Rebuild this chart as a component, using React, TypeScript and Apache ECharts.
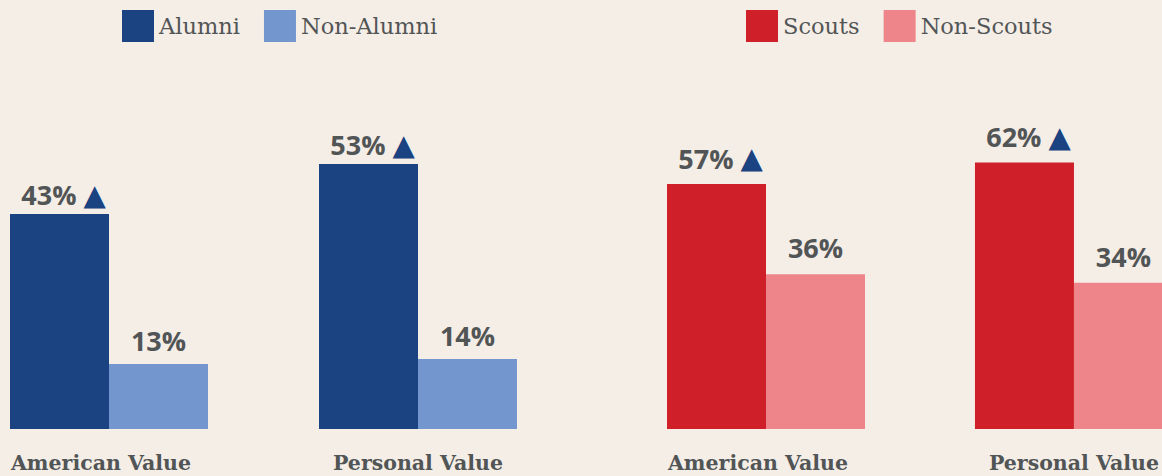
import React, { useEffect, useRef } from "react";
import * as echarts from "echarts";

const categories = ["American Value", "Personal Value"];
const alumni = [43, 53];
const nonAlumni = [13, 14];
const scouts = [57, 62];
const nonScouts = [36, 34];

const C_ALUMNI = "#1b4281";
const C_NONALUMNI = "#7396ce";
const C_SCOUTS = "#cf2029";
const C_NONSCOUTS = "#ee858a";
const TEXT = "#525556";

export default function App() {
  const ref = useRef<HTMLDivElement>(null);
  useEffect(() => {
    if (!ref.current) return;
    const chart = echarts.init(ref.current, undefined, { renderer: "svg" });
    const valueLabel = (distance: number, arrow: boolean) => ({
      show: true,
      position: "top",
      distance,
      offset: arrow ? [4, 0] : [0, 0],
      formatter: arrow ? "{v|{c}% }{t|▲}" : "{v|{c}%}",
      rich: {
        v: { fontFamily: "Open Sans", fontWeight: 700, fontSize: 27, color: TEXT },
        t: { fontFamily: "DejaVu Sans", fontSize: 29, color: C_ALUMNI },
      },
    });
    const catAxis = (gridIndex: number) => ({
      type: "category",
      gridIndex,
      data: categories,
      boundaryGap: false,
      axisLine: { show: false },
      axisTick: { show: false },
      axisLabel: {
        interval: 0,
        margin: 23,
        formatter: (v: string, i: number) => (i === 0 ? `{a|${v}}` : `{b|${v}}`),
        rich: {
          a: { fontFamily: "DejaVu Serif", fontWeight: 700, fontSize: 20.5, color: TEXT, padding: [0, 16, 0, 0] },
          b: { fontFamily: "DejaVu Serif", fontWeight: 700, fontSize: 20.5, color: TEXT },
        },
      },
    });
    const valAxis = (gridIndex: number) => ({
      type: "value",
      gridIndex,
      min: 0,
      max: 80,
      axisLine: { show: false },
      axisTick: { show: false },
      axisLabel: { show: false },
      splitLine: { show: false },
    });
    const legendText = { fontFamily: "DejaVu Serif", fontSize: 22.5, color: TEXT };
    const bar = (name: string, idx: number, data: number[], color: string, label: any) => ({
      name,
      type: "bar",
      xAxisIndex: idx,
      yAxisIndex: idx,
      data,
      barWidth: 99,
      barGap: "0%",
      clip: false,
      itemStyle: { color },
      label,
    });
    chart.setOption({
      animation: false,
      backgroundColor: "#f5eee7",
      legend: [
        {
          data: ["Alumni", "Non-Alumni"],
          left: 122,
          top: 10,
          padding: 0,
          icon: "rect",
          itemWidth: 32,
          itemHeight: 32,
          itemGap: 24,
          textStyle: legendText,
        },
        {
          data: ["Scouts", "Non-Scouts"],
          left: 746,
          top: 10,
          padding: 0,
          icon: "rect",
          itemWidth: 32,
          itemHeight: 32,
          itemGap: 24,
          textStyle: legendText,
        },
      ],
      grid: [
        { left: 109, width: 309, top: 29, bottom: 47 },
        { left: 766, width: 308, top: 85, bottom: 47 },
      ],
      xAxis: [catAxis(0), catAxis(1)],
      yAxis: [valAxis(0), valAxis(1)],
      series: [
        bar("Alumni", 0, alumni, C_ALUMNI, valueLabel(5, true)),
        bar("Non-Alumni", 0, nonAlumni, C_NONALUMNI, valueLabel(10, false)),
        bar("Scouts", 1, scouts, C_SCOUTS, valueLabel(11, true)),
        bar("Non-Scouts", 1, nonScouts, C_NONSCOUTS, valueLabel(13, false)),
      ],
    });
    return () => chart.dispose();
  }, []);
  return (
    <div
      ref={ref}
      style={{ position: "fixed", left: 0, top: 0, width: 1162, height: 476 }}
    />
  );
}
